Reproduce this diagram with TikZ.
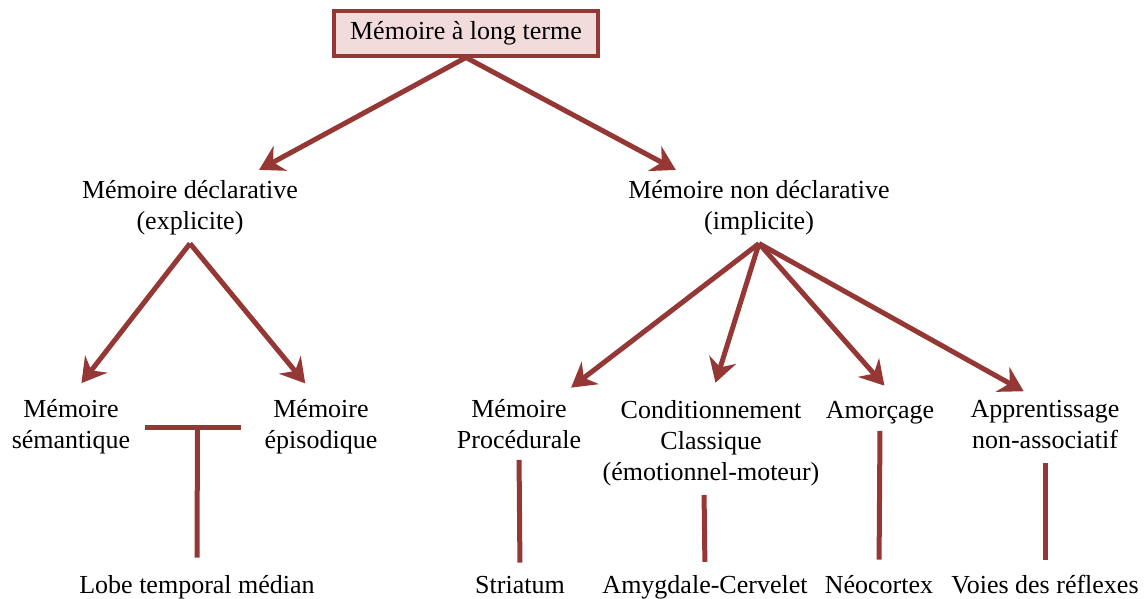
\documentclass[tikz,border=0pt]{standalone}
\usepackage{fontspec}
\setmainfont{Liberation Serif}
\usetikzlibrary{arrows.meta}
\definecolor{brique}{RGB}{149,55,53}
\definecolor{rosepale}{RGB}{242,220,219}
\tikzset{
  lien/.style={draw=brique,line width=5pt},
  fleche/.style={lien,-{Stealth[length=24pt,width=28pt,inset=8pt]}},
  titre/.style={draw=brique,fill=rosepale,line width=4pt,minimum width=264pt,minimum height=45pt,inner sep=0pt},
  etiq/.style={align=center,inner sep=3pt}
}
\begin{document}
\begin{tikzpicture}[x=1pt,y=-1pt,font=\fontsize{26}{31}\selectfont]
  \useasboundingbox (0,0) rectangle (1146,598);
  % racine
  \node[titre] (ltm) at (466,33) {Mémoire à long terme};
  % deux grandes familles
  \node[etiq] (decl) at (190,208) {Mémoire déclarative\\(explicite)};
  \node[etiq] (nondecl) at (759,208) {Mémoire non déclarative\\(implicite)};
  % sous-types
  \node[etiq] (sem) at (71,427) {Mémoire\\sémantique};
  \node[etiq] (epi) at (321,427) {Mémoire\\épisodique};
  \node[etiq] (proc) at (519,424) {Mémoire\\Procédurale};
  \node[etiq] (cond) at (711,443) {Conditionnement\\Classique\\(émotionnel-moteur)};
  \node[etiq,anchor=base] (amor) at (880,418) {Amorçage};
  \node[etiq] (appr) at (1045,425) {Apprentissage\\non-associatif};
  % structures
  \node[etiq,anchor=base] (lobe) at (197,593) {Lobe temporal médian};
  \node[etiq,anchor=base] (stria) at (520,593) {Striatum};
  \node[etiq,anchor=base] (amyg) at (705,593) {Amygdale-Cervelet};
  \node[etiq,anchor=base] (neo) at (879,593) {Néocortex};
  \node[etiq,anchor=base] (voies) at (1045,593) {Voies des réflexes};

  \coordinate (sdecl) at ([yshift=-5pt]decl.south);
  \coordinate (snondecl) at ([yshift=-5pt]nondecl.south);

  \draw[fleche,shorten >=16pt] (ltm.south) -- ([xshift=55pt]decl.north);
  \draw[fleche,shorten >=16pt] (ltm.south) -- ([xshift=-69pt]nondecl.north);

  \draw[fleche,shorten >=17pt] (sdecl) -- (sem.north);
  \draw[fleche,shorten >=17pt] (sdecl) -- ([xshift=-5pt]epi.north);

  \draw[fleche,shorten >=14pt] (snondecl) -- ([xshift=41pt]proc.north);
  \draw[fleche,shorten >=15pt] (snondecl) -- (cond.north);
  \draw[fleche,shorten >=16pt] (snondecl) -- ([xshift=15pt]amor.north);
  \draw[fleche,shorten >=13pt] (snondecl) -- ([xshift=-10pt]appr.north);

  \draw[lien,shorten <=12pt,shorten >=20pt] (sem.east) -- coordinate (jonc) (epi.west);
  \draw[lien,shorten >=14pt] (jonc) -- (lobe.north);
  \draw[lien,shorten <=8pt,shorten >=10pt] (proc.south) -- (stria.north);
  \draw[lien,shorten <=6pt,shorten >=10pt] ([xshift=-7pt]cond.south) -- (amyg.north);
  \draw[lien,shorten <=4pt,shorten >=12pt] (amor.south) -- (neo.north);
  \draw[lien,shorten <=11pt,shorten >=12pt] (appr.south) -- (voies.north);
\end{tikzpicture}
\end{document}
